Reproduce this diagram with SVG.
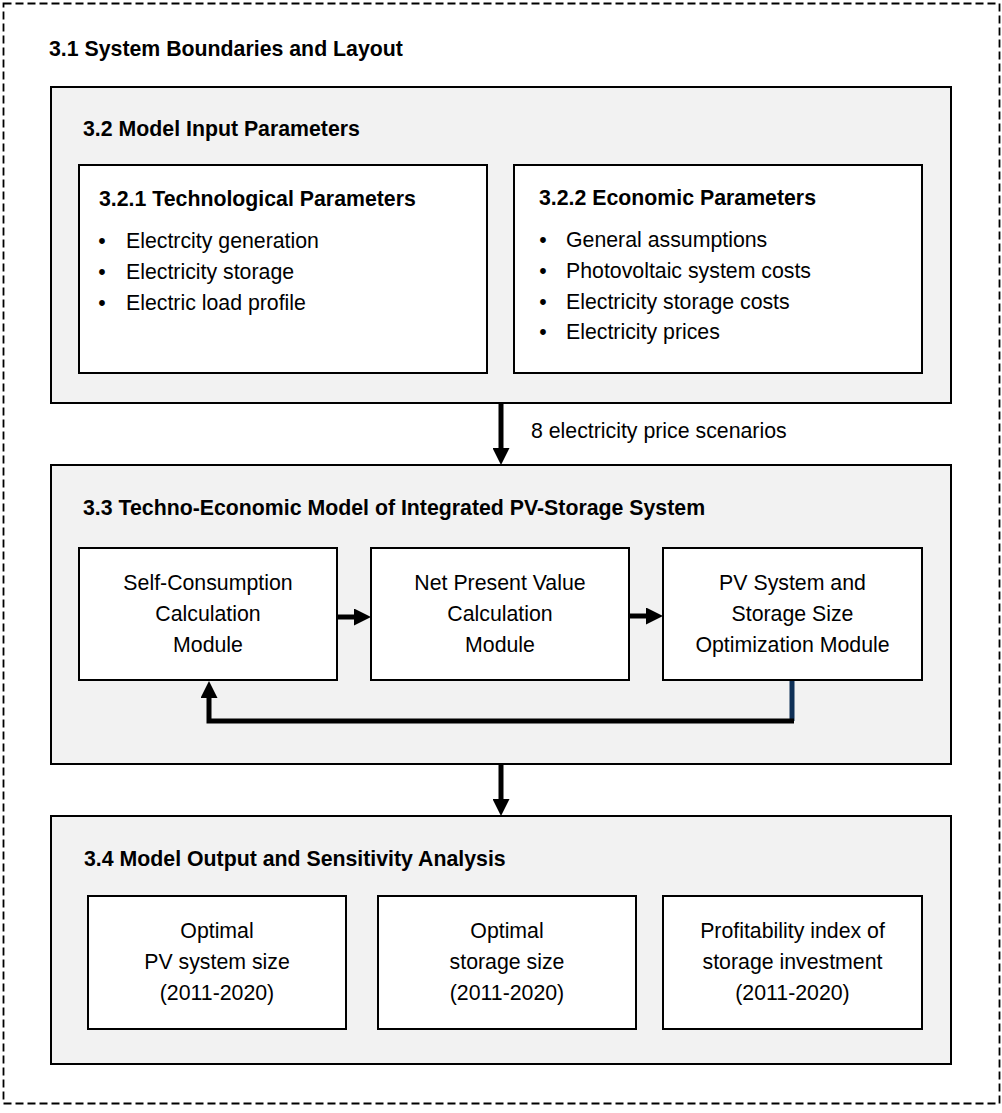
<svg xmlns="http://www.w3.org/2000/svg" width="1002" height="1113" viewBox="0 0 1002 1113">
<defs>
<style>
text{font-family:"Liberation Sans",Arial,sans-serif;font-size:21.3px;fill:#000}
.h{font-weight:bold}
.c{text-anchor:middle}
.outer{fill:#f2f2f2;stroke:#000;stroke-width:2}
.inner{fill:#fff;stroke:#000;stroke-width:2}
.conn{fill:none;stroke:#000;stroke-width:5}
</style>
<marker id="ah" viewBox="0 0 17 17" refX="0" refY="8.5" markerWidth="17" markerHeight="17" markerUnits="userSpaceOnUse" orient="auto">
<path d="M0,0 L17,8.5 L0,17 z" fill="#000"/>
</marker>
</defs>
<rect width="1002" height="1113" fill="#fff"/>
<g id="boundary">
<rect x="3.5" y="3.5" width="996" height="1100" fill="none" stroke="#000" stroke-width="1.8" stroke-dasharray="8,4"/>
<text class="h" x="49" y="56">3.1 System Boundaries and Layout</text>
</g>
<g id="input">
<rect class="outer" x="51" y="87" width="900" height="316"/>
<text class="h" x="83" y="136">3.2 Model Input Parameters</text>
</g>
<g id="tech">
<rect class="inner" x="79" y="165" width="408" height="208"/>
<text class="h" x="99" y="206">3.2.1 Technological Parameters</text>
<text x="102" y="248" class="c">•</text><text x="126" y="248">Electrcity generation</text>
<text x="102" y="279" class="c">•</text><text x="126" y="279">Electricity storage</text>
<text x="102" y="310" class="c">•</text><text x="126" y="310">Electric load profile</text>
</g>
<g id="econ">
<rect class="inner" x="514" y="165" width="408" height="208"/>
<text class="h" x="539" y="205">3.2.2 Economic Parameters</text>
<text x="543" y="247" class="c">•</text><text x="566" y="247">General assumptions</text>
<text x="543" y="278" class="c">•</text><text x="566" y="278">Photovoltaic system costs</text>
<text x="543" y="309" class="c">•</text><text x="566" y="309">Electricity storage costs</text>
<text x="543" y="339" class="c">•</text><text x="566" y="339">Electricity prices</text>
</g>
<g id="model">
<rect class="outer" x="51" y="465" width="900" height="299"/>
<text class="h" x="83" y="515">3.3 Techno-Economic Model of Integrated PV-Storage System</text>
</g>
<g id="selfcons">
<rect class="inner" x="79" y="548" width="258" height="132"/>
<text class="c" x="208" y="590">Self-Consumption</text>
<text class="c" x="208" y="621">Calculation</text>
<text class="c" x="208" y="652">Module</text>
</g>
<g id="npv">
<rect class="inner" x="371" y="548" width="258" height="132"/>
<text class="c" x="500" y="590">Net Present Value</text>
<text class="c" x="500" y="621">Calculation</text>
<text class="c" x="500" y="652">Module</text>
</g>
<g id="optim">
<rect class="inner" x="663" y="548" width="259" height="132"/>
<text class="c" x="792.5" y="590">PV System and</text>
<text class="c" x="792.5" y="621">Storage Size</text>
<text class="c" x="792.5" y="652">Optimization Module</text>
</g>
<g id="output">
<rect class="outer" x="51" y="816" width="900" height="248"/>
<text class="h" x="84" y="866">3.4 Model Output and Sensitivity Analysis</text>
</g>
<g id="out-pv">
<rect class="inner" x="88" y="896" width="258" height="133"/>
<text class="c" x="217" y="938">Optimal</text>
<text class="c" x="217" y="969">PV system size</text>
<text class="c" x="217" y="1000">(2011-2020)</text>
</g>
<g id="out-storage">
<rect class="inner" x="378" y="896" width="258" height="133"/>
<text class="c" x="507" y="938">Optimal</text>
<text class="c" x="507" y="969">storage size</text>
<text class="c" x="507" y="1000">(2011-2020)</text>
</g>
<g id="out-pi">
<rect class="inner" x="663" y="896" width="259" height="133"/>
<text class="c" x="792.5" y="938">Profitability index of</text>
<text class="c" x="792.5" y="969">storage investment</text>
<text class="c" x="792.5" y="1000">(2011-2020)</text>
</g>
<g id="connectors">
<line class="conn" x1="501" y1="404" x2="501" y2="448" marker-end="url(#ah)"/>
<text x="531" y="438">8 electricity price scenarios</text>
<line class="conn" x1="338" y1="617" x2="354" y2="617" marker-end="url(#ah)"/>
<line class="conn" x1="630" y1="616" x2="646" y2="616" marker-end="url(#ah)"/>
<line x1="792" y1="681" x2="792" y2="721" stroke="#0f3057" stroke-width="5"/>
<path class="conn" d="M794,721 H209 V698" marker-end="url(#ah)"/>
<line class="conn" x1="501" y1="765" x2="501" y2="799" marker-end="url(#ah)"/>
</g>
</svg>
